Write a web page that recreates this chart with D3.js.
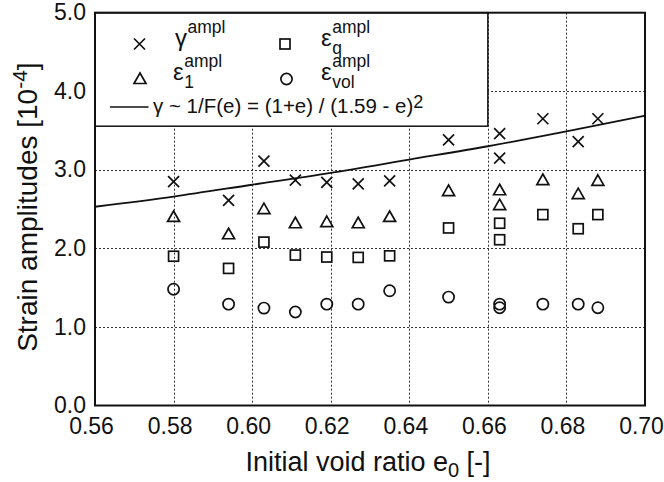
<!DOCTYPE html>
<html>
<head>
<meta charset="utf-8">
<script src="https://cdn.jsdelivr.net/npm/d3@7"></script>
<style>
  html, body { margin: 0; padding: 0; background: #fff; }
  svg { display: block; font-family: "Liberation Sans", Arial, Helvetica, sans-serif; }
</style>
</head>
<body>
<svg id="chart" width="664" height="482"></svg>
<script>
// Initial void ratio of each test (two tests share e0 = 0.663)
const voidRatio = [0.580, 0.594, 0.603, 0.611, 0.619, 0.627, 0.635, 0.650, 0.663, 0.663, 0.674, 0.683, 0.688];
// Strain amplitudes [1e-4]
const gammaAmpl = [2.85, 2.61, 3.11, 2.87, 2.84, 2.82, 2.86, 3.38, 3.46, 3.15, 3.65, 3.36, 3.65];
const eps1Ampl  = [2.40, 2.18, 2.50, 2.32, 2.335, 2.32, 2.40, 2.73, 2.74, 2.55, 2.87, 2.69, 2.86];
const epsqAmpl  = [1.90, 1.745, 2.08, 1.915, 1.89, 1.885, 1.905, 2.26, 2.32, 2.11, 2.43, 2.25, 2.43];
const epsvolAmpl = [1.48, 1.29, 1.24, 1.19, 1.29, 1.29, 1.46, 1.38, 1.29, 1.245, 1.29, 1.29, 1.245];

// Fitted trend gamma ~ (1+e)/(1.59-e)^2, sampled values
const fitVoidRatio = [0.56, 0.58, 0.60, 0.62, 0.64, 0.66, 0.68, 0.70];
const fitGamma     = [2.53, 2.66, 2.81, 2.96, 3.13, 3.30, 3.49, 3.69];

const xTicks = [0.56, 0.58, 0.60, 0.62, 0.64, 0.66, 0.68, 0.70];
const yTicks = [0, 1, 2, 3, 4, 5];

const W = 664, H = 482;
const margin = { left: 95, right: 19, top: 12.7, bottom: 76.5 };
const svg = d3.select("#chart");

const x = d3.scaleLinear().domain([0.56, 0.70]).range([margin.left, W - margin.right]);
const y = d3.scaleLinear().domain([0, 5]).range([H - margin.bottom, margin.top]);

const ink = "#111";

// grid
const grid = svg.append("g").attr("stroke", "#333").attr("stroke-width", 1).attr("stroke-dasharray", "2,2");
grid.selectAll("line.gx").data(xTicks.slice(1, -1)).join("line")
  .attr("x1", d => Math.round(x(d)) + 0.5).attr("x2", d => Math.round(x(d)) + 0.5)
  .attr("y1", y(5)).attr("y2", y(0));
grid.selectAll("line.gy").data(yTicks.slice(1, -1)).join("line")
  .attr("y1", d => Math.round(y(d)) + 0.5).attr("y2", d => Math.round(y(d)) + 0.5)
  .attr("x1", x(0.56)).attr("x2", x(0.70));

// axes
const tickFs = 23;
const xAxis = svg.append("g").attr("transform", `translate(0,${y(0)})`)
  .call(d3.axisBottom(x).tickValues(xTicks).tickSize(0).tickFormat(d3.format(".2f")));
xAxis.select(".domain").remove();
xAxis.selectAll("text").attr("x", -4).attr("y", 28.5).attr("dy", null)
  .attr("font-size", tickFs).attr("fill", ink).attr("font-family", null);

const yAxis = svg.append("g").attr("transform", `translate(${x(0.56)},0)`)
  .call(d3.axisLeft(y).tickValues(yTicks).tickSize(0).tickFormat(d3.format(".1f")));
yAxis.select(".domain").remove();
yAxis.selectAll("text").attr("x", -9).attr("dy", "0.31em")
  .attr("font-size", tickFs).attr("fill", ink).attr("font-family", null);

// legend box
const lg = svg.append("g");
lg.append("rect").attr("x", x(0.56)).attr("y", y(5))
  .attr("width", x(0.66) - x(0.56)).attr("height", 113.5)
  .attr("fill", "#fff").attr("stroke", ink).attr("stroke-width", 1.5);

// marker shapes
const S = 1.7;
function drawMarker(g, type, cx, cy) {
  if (type === "cross") {
    g.append("path").attr("d", `M${cx-5.5},${cy-5.5}L${cx+5.5},${cy+5.5}M${cx-5.5},${cy+5.5}L${cx+5.5},${cy-5.5}`)
      .attr("stroke", ink).attr("stroke-width", S).attr("fill", "none");
  } else if (type === "square") {
    g.append("rect").attr("x", cx - 5).attr("y", cy - 5).attr("width", 10).attr("height", 10)
      .attr("stroke", ink).attr("stroke-width", S).attr("fill", "none");
  } else if (type === "triangle") {
    g.append("path").attr("d", `M${cx},${cy-6}L${cx+6},${cy+4.5}L${cx-6},${cy+4.5}Z`)
      .attr("stroke", ink).attr("stroke-width", S).attr("fill", "none").attr("stroke-linejoin", "miter");
  } else {
    g.append("circle").attr("cx", cx).attr("cy", cy).attr("r", 5.6)
      .attr("stroke", ink).attr("stroke-width", S).attr("fill", "none");
  }
}

// legend entries: symbol with stacked superscript / subscript
const mainFs = 24, scriptFs = 17.5;
function legendSymbol(gx, baseY, mainChar, supTxt, subTxt) {
  const t = lg.append("text").attr("x", gx).attr("y", baseY).attr("font-size", mainFs).attr("fill", ink).text(mainChar);
  const w = t.node().getComputedTextLength();
  lg.append("text").attr("x", gx + w + 0.5).attr("y", baseY - 12.5).attr("font-size", scriptFs).attr("fill", ink).text(supTxt);
  if (subTxt) lg.append("text").attr("x", gx + w + 0.5).attr("y", baseY + 8.5).attr("font-size", scriptFs).attr("fill", ink).text(subTxt);
}
drawMarker(lg, "cross", 139.5, 44);
legendSymbol(175, 45.5, "γ", "ampl", null);
drawMarker(lg, "square", 285, 44);
legendSymbol(321, 45.5, "ε", "ampl", "q");
drawMarker(lg, "triangle", 140, 79);
legendSymbol(173, 79.5, "ε", "ampl", "1");
drawMarker(lg, "circle", 286.5, 79);
legendSymbol(321, 79.5, "ε", "ampl", "vol");

lg.append("line").attr("x1", 110).attr("x2", 148.5).attr("y1", 107).attr("y2", 107)
  .attr("stroke", ink).attr("stroke-width", 1.5);
const fitLabel = lg.append("text").attr("x", 153).attr("y", 113).attr("font-size", 20.5).attr("fill", ink);
fitLabel.append("tspan").text("γ ~ 1/F(e) = (1+e) / (1.59 - e)");
fitLabel.append("tspan").attr("dy", -5).attr("font-size", 18).text("2");

// fitted curve
const line = d3.line().x((d, i) => x(fitVoidRatio[i])).y(d => y(d)).curve(d3.curveMonotoneX);
svg.append("path").attr("d", line(fitGamma)).attr("fill", "none").attr("stroke", ink).attr("stroke-width", 1.8);

// data markers
const pts = svg.append("g");
const series = [
  { values: gammaAmpl, type: "cross" },
  { values: eps1Ampl, type: "triangle" },
  { values: epsqAmpl, type: "square" },
  { values: epsvolAmpl, type: "circle" }
];
series.forEach(s => s.values.forEach((v, i) => drawMarker(pts, s.type, x(voidRatio[i]), y(v))));

// frame
svg.append("rect").attr("x", x(0.56)).attr("y", y(5))
  .attr("width", x(0.70) - x(0.56)).attr("height", y(0) - y(5))
  .attr("fill", "none").attr("stroke", ink).attr("stroke-width", 2);

// axis titles
const xt = svg.append("text").attr("x", (x(0.56) + x(0.70)) / 2 - 2).attr("y", 471)
  .attr("text-anchor", "middle").attr("font-size", 27).attr("fill", ink);
xt.append("tspan").text("Initial void ratio e");
xt.append("tspan").attr("dy", 6).attr("font-size", 20).text("0");
xt.append("tspan").attr("dy", -6).text(" [-]");

const yt = svg.append("text").attr("transform", `translate(37,${(y(0) + y(5)) / 2 - 2}) rotate(-90)`)
  .attr("text-anchor", "middle").attr("font-size", 28).attr("fill", ink);
yt.append("tspan").text("Strain amplitudes [10");
yt.append("tspan").attr("dy", -10).attr("font-size", 21).text("-4");
yt.append("tspan").attr("dy", 10).text("]");
</script>
</body>
</html>
